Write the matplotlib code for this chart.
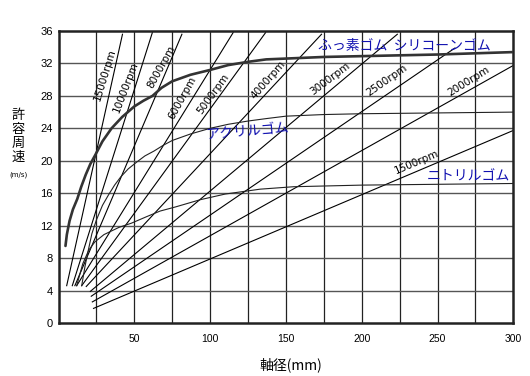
import matplotlib
matplotlib.use("Agg")
import matplotlib.pyplot as plt

# ---------------- data ----------------
x_ticks = [50, 100, 150, 200, 250, 300]
y_ticks = [0, 4, 8, 12, 16, 20, 24, 28, 32, 36]

rpm_labels = ["15000rpm", "10000rpm", "8000rpm", "6000rpm", "5000rpm",
              "4000rpm", "3000rpm", "2500rpm", "2000rpm", "1500rpm"]
rpm_d0 = [5.4, 9.1, 10.8, 12.0, 15.3, 18.3, 21.0, 21.6, 22.3, 23.1]
rpm_v0 = [4.6, 4.6, 4.6, 4.6, 4.6, 4.5, 3.9, 3.3, 2.6, 1.8]
rpm_d1 = [42.2, 61.9, 81.4, 115.2, 136.6, 173.5, 223.5, 261.5, 299.5, 299.5]
rpm_v1 = [35.6, 35.8, 35.6, 35.8, 35.8, 35.6, 35.6, 33.9, 31.7, 23.7]

fluoro_d = [4.6, 5.5, 7.3, 9.5, 12.4, 15, 18, 21, 24.5, 29, 35, 42, 50, 56, 62, 68,
            75, 87, 100, 112, 125, 137, 150, 175, 200, 250, 300]
fluoro_v = [9.5, 10.9, 12.6, 14.0, 15.3, 16.8, 18.3, 19.6, 20.8, 22.4, 24.0, 25.4,
            26.7, 27.4, 28.0, 29.0, 29.8, 30.6, 31.2, 31.8, 32.2, 32.5, 32.6, 32.8,
            32.9, 33.1, 33.4]

acryl_d = [15.3, 17.5, 19.7, 22, 25, 29, 33, 37, 41, 46, 52, 57, 63, 69, 75, 87,
           100, 112, 125, 137, 150, 175, 200, 250, 300]
acryl_v = [4.6, 7.0, 9.0, 11.0, 12.7, 14.5, 15.8, 17.0, 18.0, 19.0, 19.9, 20.6,
           21.2, 21.9, 22.5, 23.3, 24.0, 24.5, 24.9, 25.2, 25.5, 25.7, 25.8, 25.9, 26.0]

nitrile_d = [12, 16, 20, 24, 30, 40, 48, 58, 67, 77, 93.5, 110, 133, 155, 200, 300]
nitrile_v = [4.6, 7.3, 9.0, 10.0, 10.9, 11.8, 12.3, 13.1, 13.8, 14.3, 15.2, 15.9,
             16.5, 16.8, 17.0, 17.2]

# ---------------- drawing ----------------
W, H = 530, 376
fig = plt.figure(figsize=(W / 100, H / 100), dpi=100)
L, R, T, B = 58.5, 513.3, 31, 323
ax = fig.add_axes([L / W, 1 - B / H, (R - L) / W, (B - T) / H])
ax.set_xlim(0, 300)
ax.set_ylim(0, 36)

jp = ["Noto Sans CJK JP", "DejaVu Sans"]
blue = "#1010b0"

for gx in range(25, 300, 25):
    ax.axvline(gx, color="#222222", lw=0.9, zorder=1)
for gy in range(4, 36, 4):
    ax.axhline(gy, color="#555555", lw=1.0, zorder=1)

for d0, v0, d1, v1 in zip(rpm_d0, rpm_v0, rpm_d1, rpm_v1):
    ax.plot([d0, d1], [v0, v1], color="black", lw=0.8, zorder=2)

ax.plot(fluoro_d, fluoro_v, color="#333333", lw=1.9, zorder=3,
        solid_joinstyle="round", solid_capstyle="round")
ax.plot(acryl_d, acryl_v, color="#222222", lw=0.8, zorder=2)
ax.plot(nitrile_d, nitrile_v, color="#222222", lw=0.8, zorder=2)

for s in ax.spines.values():
    s.set_linewidth(1.8)
    s.set_color("#222222")

ax.set_xticks(x_ticks)
ax.set_yticks(y_ticks)
ax.set_xticklabels([str(v) for v in x_ticks], fontsize=7.5, family="Liberation Sans")
ax.set_yticklabels([str(v) for v in y_ticks], fontsize=8, family="Liberation Sans")
ax.tick_params(axis="both", length=0)
ax.tick_params(axis="x", pad=8)
ax.tick_params(axis="y", pad=4)

def px2data(px, py):
    return ((px - L) / (R - L) * 300, (B - py) / (B - T) * 36)

# rpm labels (pixel centre, rotation)
rpm_pos = [(105, 75, 73), (126, 87, 69), (161, 67, 61), (182.5, 98, 61), (213, 94, 54),
           (268, 80, 49), (330, 79, 37), (387, 80, 35), (469, 81, 32), (417, 162, 23)]
for lab, (px, py, rot) in zip(rpm_labels, rpm_pos):
    x, y = px2data(px, py)
    ax.text(x, y, lab, fontsize=7.5, family="Liberation Sans Narrow", rotation=rot,
            ha="center", va="center", rotation_mode="anchor", zorder=4)

x, y = px2data(404, 46)
ax.text(x, y, "ふっ素ゴム  シリコーンゴム", family=jp, fontsize=10, color=blue,
        ha="center", va="center", zorder=4)
x, y = px2data(247, 132)
ax.text(x, y, "アクリルゴム", family=jp, fontsize=10, color=blue, rotation=5,
        ha="center", va="center", zorder=4)
x, y = px2data(468, 176)
ax.text(x, y, "ニトリルゴム", family=jp, fontsize=10, color=blue,
        ha="center", va="center", zorder=4)

ylab = "許容周速"
for i, ch in enumerate(ylab):
    fig.text(18 / W, 1 - (115 + 14 * i) / H, ch, family=jp, fontsize=9.5,
             ha="center", va="center")
fig.text(18 / W, 1 - 175 / H, "(m/s)", family="DejaVu Sans", fontsize=5,
         ha="center", va="center")
fig.text(291 / W, 1 - 365 / H, "軸径(mm)", family=jp, fontsize=10,
         ha="center", va="center")

fig.savefig("out.png", dpi=100, facecolor="white")
